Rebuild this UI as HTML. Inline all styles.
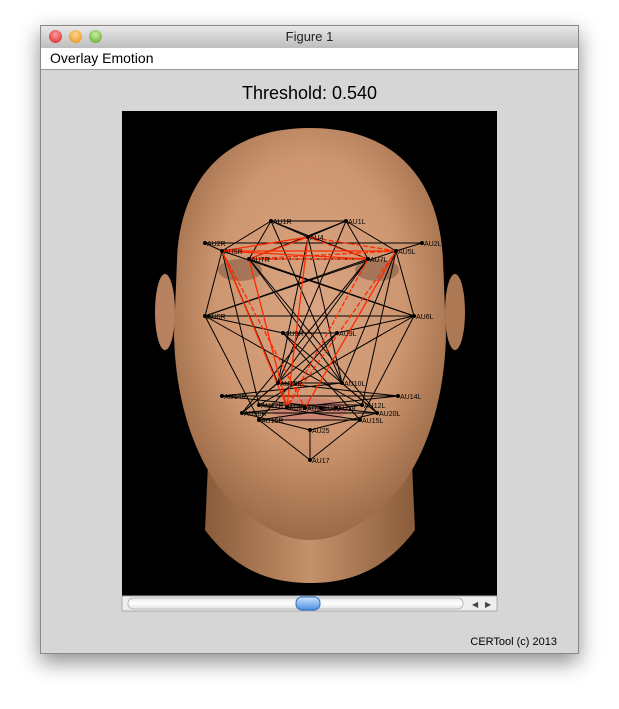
<!DOCTYPE html>
<html><head><meta charset="utf-8"><style>
body{margin:0;width:619px;height:709px;background:#fff;font-family:"Liberation Sans",sans-serif;overflow:hidden;position:relative}
#win{position:absolute;left:40px;top:25px;width:539px;height:629px;background:#d6d6d6;box-shadow:0 8px 20px rgba(0,0,0,.45);border:1px solid #888;box-sizing:border-box}
#titlebar{position:absolute;left:0;top:0;width:100%;height:22px;background:linear-gradient(#e8e8e8,#bdbdbd);border-bottom:1px solid #555;text-align:center;font-size:13px;line-height:22px;color:#222}
.btn{position:absolute;top:4px;width:13px;height:13px;border-radius:50%}
#menubar{position:absolute;left:0;top:22px;width:100%;height:21px;background:#fff;border-bottom:1px solid #999;font-size:14px;line-height:21px}
#menubar span{padding-left:9px;color:#000}
#thr{position:absolute;left:0;width:100%;top:57px;text-align:center;font-size:18px;color:#000}
#copy{position:absolute;right:21px;top:610px;font-size:11px;color:#000}
</style></head><body>
<div id="win">
 <div id="titlebar">Figure 1
  <div class="btn" style="left:8px;background:radial-gradient(circle at 50% 35%,#ff9a9a,#d42020)"></div>
  <div class="btn" style="left:28px;background:radial-gradient(circle at 50% 35%,#ffd890,#e08a10)"></div>
  <div class="btn" style="left:48px;background:radial-gradient(circle at 50% 35%,#c8f0a0,#5aa020)"></div>
 </div>
 <div id="menubar"><span>Overlay Emotion</span></div>
 <div id="thr">Threshold: 0.540</div>
 <div id="copy">CERTool (c) 2013</div>
</div>
<svg id="svg" width="619" height="709" style="position:absolute;left:0;top:0">
<defs>
<radialGradient id="skin" cx="50%" cy="42%" r="58%"><stop offset="0" stop-color="#dba583"/><stop offset=".6" stop-color="#cd9670"/><stop offset="1" stop-color="#9c6a47"/></radialGradient>
<linearGradient id="neck" x1="0" x2="1"><stop offset="0" stop-color="#8a5c3b"/><stop offset=".5" stop-color="#c4916a"/><stop offset="1" stop-color="#8a5c3b"/></linearGradient>
<linearGradient id="sb" x1="0" y1="0" x2="0" y2="1"><stop offset="0" stop-color="#e8e8e8"/><stop offset=".5" stop-color="#fff"/><stop offset="1" stop-color="#e0e0e0"/></linearGradient>
<linearGradient id="thumb" x1="0" y1="0" x2="0" y2="1"><stop offset="0" stop-color="#cfe4ff"/><stop offset="1" stop-color="#4b8fe0"/></linearGradient>
</defs>
<rect x="122" y="111" width="375" height="485" fill="#000"/>
<path d="M210,420 L205,530 C235,570 270,583 310,583 C350,583 385,570 415,530 L410,420 Z" fill="url(#neck)"/>
<ellipse cx="165" cy="312" rx="10" ry="38" fill="#b88260"/>
<ellipse cx="455" cy="312" rx="10" ry="38" fill="#ad7854"/>
<path d="M310,128 C400,128 440,185 443,260 L446,335 C444,425 410,490 372,515 C348,532 332,540 310,540 C288,540 272,532 248,515 C210,490 176,425 174,335 L177,260 C180,185 220,128 310,128 Z" fill="url(#skin)"/>
<ellipse cx="240" cy="270" rx="22" ry="11" fill="#6e4a38" opacity=".45"/>
<ellipse cx="377" cy="270" rx="22" ry="11" fill="#6e4a38" opacity=".45"/>
<ellipse cx="310" cy="410" rx="38" ry="12" fill="#c77a70" opacity=".7"/>
<g id="edges"></g><g id="nodes"></g>
<rect x="122" y="596" width="375" height="15" fill="#eee" stroke="#aaa"/>
<rect x="128" y="598" width="335" height="11" rx="5" fill="url(#sb)" stroke="#bbb"/>
<rect x="296" y="597" width="24" height="13" rx="6" fill="url(#thumb)" stroke="#2c6cc0"/>
<text x="472" y="607" font-size="8" fill="#444">◀</text>
<text x="485" y="607" font-size="8" fill="#444">▶</text>
</svg>
<script>
const nodeNames=["AU1R","AU1L","AU4","AU2R","AU2L","AU5R","AU5L","AU7R","AU7L","AU6R","AU6L","AU9R","AU9L","AU10R","AU10L","AU14R","AU14L","AU12R","AU12L","AU20R","AU20L","AU22","AU24","AU23","AU28","AU15R","AU15L","AU25","AU17"];
const nodeX=[271,346,308,205,422,222,396,249,368,205,414,283,337,278,342,222,398,259,362,242,377,287,305,321,336,259,360,310,310];
const nodeY=[221,221,237,243,243,251,251,259,259,316,316,333,333,383,383,396,396,405,405,413,413,407,408,408,408,420,420,430,460];
const blackEdges=[[0,1],[0,2],[1,2],[0,5],[0,7],[1,6],[1,8],[0,8],[1,7],[3,4],[5,6],[7,8],[5,10],[6,9],[7,10],[8,9],[9,10],[5,9],[6,10],[9,11],[10,12],[11,12],[5,13],[6,14],[7,14],[8,13],[13,14],[15,16],[17,18],[19,20],[25,26],[13,19],[14,20],[15,20],[16,19],[17,26],[18,25],[27,28],[25,28],[26,28],[19,27],[20,27],[11,20],[12,19],[9,25],[10,26],[7,20],[8,19],[0,14],[1,13],[11,26],[12,25],[2,13],[2,14],[5,17],[6,18],[3,5],[4,6],[21,22],[22,23],[23,24],[13,16],[14,15],[9,18],[10,17]];
const redEdges=[[2,5],[2,6],[5,6],[7,8],[2,7],[2,8],[5,8],[6,7],[5,21],[6,21],[7,21],[8,21],[2,21],[5,22],[6,22]];
const eg=document.getElementById('edges'),ng=document.getElementById('nodes'),NS='http://www.w3.org/2000/svg';
function line(a,b,col,dash){const l=document.createElementNS(NS,'line');
l.setAttribute('x1',nodeX[a]);l.setAttribute('y1',nodeY[a]);l.setAttribute('x2',nodeX[b]);l.setAttribute('y2',nodeY[b]);
l.setAttribute('stroke',col);l.setAttribute('stroke-width',col=='#000'?1:1.3);if(dash)l.setAttribute('stroke-dasharray','5,2');


eg.appendChild(l);}
blackEdges.forEach(e=>line(e[0],e[1],'#000',false));
redEdges.forEach((e,i)=>line(e[0],e[1],'#ff2a00',i%2==1));
nodeNames.forEach((n,i)=>{const c=document.createElementNS(NS,'circle');
c.setAttribute('cx',nodeX[i]);c.setAttribute('cy',nodeY[i]);c.setAttribute('r',2);c.setAttribute('fill','#000');


ng.appendChild(c);
const t=document.createElementNS(NS,'text');t.setAttribute('x',nodeX[i]+2);t.setAttribute('y',nodeY[i]+3);
t.setAttribute('font-size','7');t.setAttribute('font-family','Liberation Sans, sans-serif');t.textContent=n;


ng.appendChild(t);});
</script>
</body></html>
